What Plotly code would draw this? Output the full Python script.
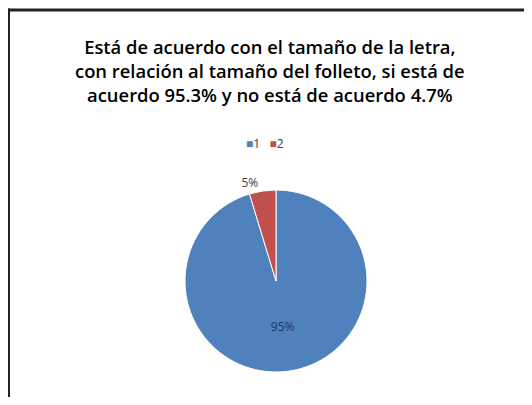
import plotly.graph_objects as go

labels = ["1", "2"]
values = [95.3, 4.7]
colors = ["#4F81BD", "#C0504D"]
text_colors = ["#1F3864", "#404040"]
title_lines = [
    "Está de acuerdo con el tamaño de la letra,",
    "con relación al tamaño del folleto, si está de",
    "acuerdo 95.3% y no está de acuerdo 4.7%",
]

# the page body has an 8px margin on every side; keep the figure inside the window
W, H = 516, 389

fig = go.Figure(go.Pie(
    labels=labels,
    values=values,
    sort=False,
    direction="clockwise",
    rotation=0,
    marker=dict(colors=colors, line=dict(color="white", width=1)),
    texttemplate="%{percent:.0%}",
    textposition=["inside", "outside"],
    insidetextorientation="horizontal",
    textfont=dict(family="Open Sans", size=12, color=text_colors),
    hoverinfo="label+percent",
    domain=dict(x=[177 / W, 359 / W], y=[1 - 364 / H, 1 - 182 / H]),
    showlegend=False,
))

legend_text = "   ".join(
    f"<span style='color:{c}'>■</span>{l}" for l, c in zip(labels, colors)
)

border = dict(color="#222222", width=3)

fig.update_layout(
    width=W,
    height=H,
    margin=dict(l=0, r=0, t=0, b=0),
    paper_bgcolor="white",
    plot_bgcolor="white",
    annotations=[
        dict(
            text="<br>".join(title_lines),
            xref="paper", yref="paper",
            x=262 / W, y=1 - 63 / H,
            xanchor="center", yanchor="middle",
            showarrow=False,
            align="center",
            font=dict(family="Open Sans", size=18.4, color="#000000", weight=600),
        ),
        dict(
            text=legend_text,
            xref="paper", yref="paper",
            x=257 / W, y=1 - 135 / H,
            xanchor="center", yanchor="middle",
            showarrow=False,
            font=dict(family="Open Sans", size=12, color="#404040"),
        ),
    ],
    shapes=[
        dict(type="line", xref="paper", yref="paper",
             x0=0, x1=1, y0=1 - 2 / H, y1=1 - 2 / H, line=border),
        dict(type="line", xref="paper", yref="paper",
             x0=0.5 / W, x1=0.5 / W, y0=0, y1=1 - 0.5 / H, line=border),
    ],
)

fig.write_html("out.html")
